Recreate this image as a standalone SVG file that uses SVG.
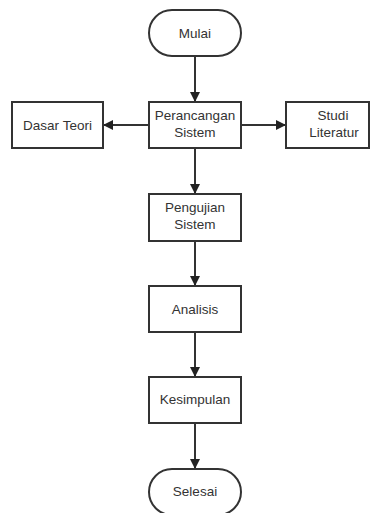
<svg xmlns="http://www.w3.org/2000/svg" width="370" height="513" viewBox="0 0 370 513">
<defs>
<style>
.n{fill:#fff;stroke:#333;stroke-width:2}
.t{font-family:"Liberation Sans",Arial,sans-serif;font-size:13.5px;fill:#333;text-anchor:middle}
.c{stroke:#333;stroke-width:2;fill:none;marker-end:url(#ah)}
</style>
<marker id="ah" markerWidth="10" markerHeight="10" refX="10" refY="5" orient="auto" markerUnits="userSpaceOnUse">
<path d="M0,0 L10,5 L0,10 Z" fill="#222"/>
</marker>
</defs>
<rect width="370" height="513" fill="#fff"/>
<g id="connectors">
<line class="c" x1="195" y1="56" x2="195" y2="102"/>
<line class="c" x1="149" y1="125" x2="103" y2="125"/>
<line class="c" x1="241" y1="125" x2="286" y2="125"/>
<line class="c" x1="195" y1="148" x2="195" y2="194"/>
<line class="c" x1="195" y1="241" x2="195" y2="286"/>
<line class="c" x1="195" y1="332" x2="195" y2="377"/>
<line class="c" x1="195" y1="423" x2="195" y2="469"/>
</g>
<g id="mulai">
<rect class="n" x="149" y="10" width="92" height="46" rx="23" ry="23"/>
<text class="t" x="195" y="38">Mulai</text>
</g>
<g id="perancangan">
<rect class="n" x="149" y="102" width="92" height="46"/>
<text class="t" x="195" y="120">Perancangan</text>
<text class="t" x="195" y="137">Sistem</text>
</g>
<g id="dasar">
<rect class="n" x="12" y="102" width="91" height="46"/>
<text class="t" x="57.5" y="130">Dasar Teori</text>
</g>
<g id="studi">
<rect class="n" x="286" y="102" width="83" height="46"/>
<text class="t" x="333" y="120">Studi</text>
<text class="t" x="334" y="137">Literatur</text>
</g>
<g id="pengujian">
<rect class="n" x="149" y="194" width="92" height="47"/>
<text class="t" x="195" y="212">Pengujian</text>
<text class="t" x="195" y="229">Sistem</text>
</g>
<g id="analisis">
<rect class="n" x="149" y="286" width="92" height="46"/>
<text class="t" x="195" y="314">Analisis</text>
</g>
<g id="kesimpulan">
<rect class="n" x="149" y="377" width="92" height="46"/>
<text class="t" x="195" y="404">Kesimpulan</text>
</g>
<g id="selesai">
<rect class="n" x="149" y="469" width="92" height="46" rx="23" ry="23"/>
<text class="t" x="195" y="496">Selesai</text>
</g>
</svg>
